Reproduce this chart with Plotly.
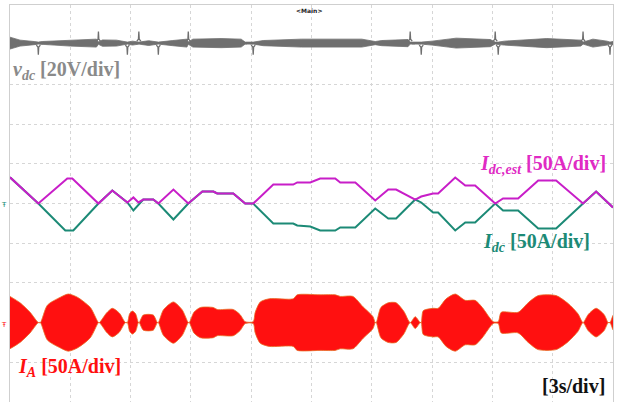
import plotly.graph_objects as go

# ---- scope settings -------------------------------------------------------
T_PER_DIV = 3.0          # s/div
N_XDIV = 10
N_YDIV = 10
VDC_PER_DIV = 20.0       # V/div
I_PER_DIV = 50.0         # A/div

# channel reference levels (in divisions from the bottom of the screen)
VDC_REF = 9.04
IDC_REF = 5.0
IA_REF = 2.0

# ---- DC-link voltage: ripple envelope (V, half width) and switching spikes (V)
vdc_t = [0, 0.5, 1.2, 1.41, 1.6, 3.0, 4.3, 4.40, 4.6, 5.3, 5.84, 6.1, 6.41, 6.9,
         7.38, 8.1, 8.8, 8.87, 9.1, 10.5, 11.5, 11.70, 12.10, 12.6, 14.5, 17.5,
         18.17, 18.5, 19.8, 19.91, 20.46, 21.0, 22.2, 23.9, 24.14, 24.29, 24.6,
         26.7, 28.4, 28.51, 29.0, 29.7, 29.85, 30.0]
vdc_half = [3.0, 1.5, 0.8, 0.5, 0.8, 1.5, 2.0, 0.6, 1.6, 1.5, 0.5, 1.0, 0.5, 1.2,
            0.5, 1.3, 2.0, 0.6, 2.0, 2.3, 2.0, 0.5, 0.5, 1.3, 2.0, 2.0,
            0.8, 1.3, 1.8, 0.5, 0.5, 1.0, 2.5, 1.8, 0.5, 0.5, 1.0,
            2.3, 1.5, 0.5, 2.0, 1.0, 0.5, 0.8]
spike_t = [1.41, 4.40, 5.84, 6.41, 7.38, 8.87, 12.10, 19.91, 20.46, 24.14,
           24.29, 28.51, 29.85]
spike_v = [-5.8, 5.8, -5.8, 5.8, -5.8, 5.8, -5.8, 5.8, -5.8, 5.8,
           -5.8, 5.8, -5.8]

# ---- DC current: estimated and measured (A) -------------------------------
idc_est_t = [0, 1.41, 2.85, 3.10, 4.40, 5.09, 5.84, 6.14, 6.39, 6.63, 7.13, 7.38,
             8.13, 8.87, 9.57, 10.12, 10.31, 11.11, 11.70, 12.10, 13.10, 14.09,
             14.29, 14.94, 15.43, 16.18, 16.43, 17.18, 18.17, 18.82, 19.21, 20.16,
             20.46, 21.05, 21.30, 22.15, 22.65, 23.14, 24.14, 24.53, 25.28, 26.28,
             27.17, 28.51, 29.16, 30.0]
idc_est = [33, 0, 31.5, 31.5, 0, 16.4, 1.3, 7.6, 1.3, 5.0, 5.0, 0,
           17.6, 0, 15.1, 15.1, 12.6, 12.6, 0, 0, 23.9, 23.9,
           26.5, 26.5, 31.5, 31.5, 26.5, 26.5, 3.8, 17.6, 17.6, 5.0,
           8.8, 12.6, 12.6, 32.8, 22.7, 22.7, 0, 6.3, 6.3, 29.0,
           29.0, 0, 15.1, -5.0]

idc_t = [0, 1.41, 2.75, 3.15, 4.40, 5.09, 5.84, 6.14, 6.63, 7.13, 7.38,
         8.13, 8.87, 9.57, 10.12, 10.31, 11.11, 11.70, 12.10, 13.10, 14.09,
         14.29, 14.94, 15.43, 16.18, 16.43, 17.18, 18.17, 18.82, 19.21, 20.16,
         20.46, 21.05, 21.30, 22.15, 22.65, 23.14, 24.14, 24.53, 25.28, 26.28,
         27.17, 28.51, 29.16, 30.0]
idc = [33, 0, -34, -34, 0, 16.4, 1.3, -8.8, 5.0, 5.0, 0,
       -20.2, 0, 15.1, 15.1, 12.6, 12.6, 0, 0, -25.2, -25.2,
       -27.7, -29.0, -34, -34, -30.2, -30.2, -6.3, -18.9, -18.9, 5.0,
       1.3, -11.3, -11.3, -34, -24, -24, 0, -8.8, -8.8, -31.5,
       -31.5, 0, 15.1, -5.0]

# ---- phase current IA: peak envelope (A) ----------------------------------
ia_t = [0, 0.5, 1.0, 1.41, 1.51, 1.86, 2.51, 2.90, 3.35, 4.0, 4.40, 4.45,
        4.80, 5.09, 5.44, 5.74, 5.84, 5.95, 6.09, 6.25, 6.39, 6.43, 6.63, 7.13,
        7.33, 7.38, 7.63, 8.13, 8.57, 8.87, 8.92, 9.15, 9.47, 10.12, 10.31, 11.11,
        11.45, 11.70, 12.10, 12.20, 12.45, 12.90, 14.09, 14.29, 15.43, 16.18, 16.43, 17.06,
        17.56, 18.06, 18.17, 18.22, 18.45, 18.82, 19.21, 19.60, 19.91, 20.16, 20.41, 20.46,
        20.56, 21.05, 21.30, 21.70, 22.15, 22.65, 23.14, 23.50, 24.04, 24.29, 24.44, 25.28,
        25.78, 26.28, 27.17, 27.77, 28.26, 28.51, 28.76, 29.16, 29.56, 29.76, 29.85, 30.0]
ia_peak = [33, 25, 13, 0, 0, 22, 32, 36, 32, 19, 0, 0,
           12, 18, 12, 0, 0, 11, 14.5, 11, 0, 0, 9.5, 9.5,
           0, 0, 16, 26, 16, 0, 0, 13, 19, 19, 16.5, 16.5,
           10, 1.2, 1.2, 13, 26, 30, 30, 35, 35, 35, 33, 33,
           20, 7.5, 0, 0, 19, 25, 25, 14, 0, 7.5, 0, 0,
           15, 18, 18, 30, 36, 28, 28, 19, 1.2, 1.2, 13, 13,
           25, 34, 34, 24, 11, 0, 10, 18, 10, 0, 0, 9]

# ---- colours --------------------------------------------------------------
GREY = "#6f6f6f"
GREY_TXT = "#8a8a8a"
MAGENTA = "#c81ec8"
MAGENTA_TXT = "#e02ac4"
TEAL = "#1c8a76"
RED = "#ff1010"
EDGE = "#e86a22"
GRID = "#d6d6d6"
FONT = "Liberation Serif"

fig = go.Figure()


def band(t, half, ref, per_div):
    upper = [ref + h / per_div for h in half]
    lower = [ref - h / per_div for h in half]
    return t + t[::-1], upper + lower[::-1]


# DC-link voltage ripple band
bx, by = band(vdc_t, vdc_half, VDC_REF, VDC_PER_DIV)
fig.add_trace(go.Scatter(x=bx, y=by, mode="lines", fill="toself",
                         fillcolor=GREY, line=dict(color=GREY, width=0.8),
                         hoverinfo="skip"))

# switching spikes on the DC-link voltage
sx, sy = [], []
for t, v in zip(spike_t, spike_v):
    s = 1 if v > 0 else -1
    sx += [t - 0.10, t - 0.02, t, t + 0.02, t + 0.10, None]
    sy += [VDC_REF + s * 1.0 / VDC_PER_DIV, VDC_REF + s * 2.0 / VDC_PER_DIV,
           VDC_REF + v / VDC_PER_DIV,
           VDC_REF + s * 2.0 / VDC_PER_DIV, VDC_REF + s * 1.0 / VDC_PER_DIV, None]
fig.add_trace(go.Scatter(x=sx, y=sy, mode="lines",
                         line=dict(color=GREY, width=1.3), hoverinfo="skip"))

# DC currents
fig.add_trace(go.Scatter(x=idc_t, y=[IDC_REF + v / I_PER_DIV for v in idc],
                         mode="lines", line=dict(color=TEAL, width=2)))
fig.add_trace(go.Scatter(x=idc_est_t, y=[IDC_REF + v / I_PER_DIV for v in idc_est],
                         mode="lines", line=dict(color=MAGENTA, width=2)))

# phase current (PWM content shown as its filled envelope)
ax, ay = band(ia_t, ia_peak, IA_REF, I_PER_DIV)
fig.add_trace(go.Scatter(x=ax, y=ay, mode="lines", fill="toself",
                         fillcolor=RED,
                         line=dict(color=EDGE, width=0.8, shape="spline",
                                   smoothing=0.7),
                         hoverinfo="skip"))

# channel reference markers on the left edge
fig.add_annotation(x=0, y=IDC_REF - 0.05, xref="x", yref="y", xanchor="right",
                   text="Ŧ", showarrow=False, xshift=-1,
                   font=dict(size=7, color=TEAL, family="DejaVu Sans"))
fig.add_annotation(x=0, y=IA_REF - 0.05, xref="x", yref="y", xanchor="right",
                   text="Ŧ", showarrow=False, xshift=-1,
                   font=dict(size=7, color=RED, family="DejaVu Sans"))

# labels
labels = [
    (0.05, 8.35, "left", "<b><i>v</i><sub><i>dc</i></sub> [20V/div]</b>", GREY_TXT),
    (23.3, 5.97, "left", "<b><i>I</i><sub><i>dc,est</i></sub> [50A/div]</b>", MAGENTA_TXT),
    (23.45, 4.03, "left", "<b><i>I</i><sub><i>dc</i></sub> [50A/div]</b>", TEAL),
    (0.3, 0.86, "left", "<b><i>I</i><sub><i>A</i></sub> [50A/div]</b>", RED),
    (29.7, 0.4, "right", "<b>[3s/div]</b>", "#111111"),
]
for x, y, anchor, txt, col in labels:
    fig.add_annotation(x=x, y=y, xref="x", yref="y", xanchor=anchor,
                       yanchor="middle", text=txt, showarrow=False,
                       font=dict(family=FONT, size=20, color=col))

fig.add_annotation(x=14.9, y=9.87, xref="x", yref="y", text="<b>&lt;Main&gt;</b>",
                   showarrow=False, font=dict(family="DejaVu Sans", size=6,
                                              color="#222222"))

axis_common = dict(showticklabels=False, ticks="", zeroline=False,
                   showgrid=True, gridcolor=GRID, griddash="dot", gridwidth=1,
                   showline=True, mirror=True, linecolor="#cfcfcf", linewidth=1)

fig.update_xaxes(range=[0, T_PER_DIV * N_XDIV], dtick=T_PER_DIV, tick0=0,
                 **axis_common)
fig.update_yaxes(range=[0, N_YDIV], dtick=1, tick0=0, **axis_common)

fig.update_layout(width=618, height=402, showlegend=False,
                  margin=dict(l=10, r=5, t=5, b=0),
                  paper_bgcolor="white", plot_bgcolor="white")

fig.write_html("out.html")
